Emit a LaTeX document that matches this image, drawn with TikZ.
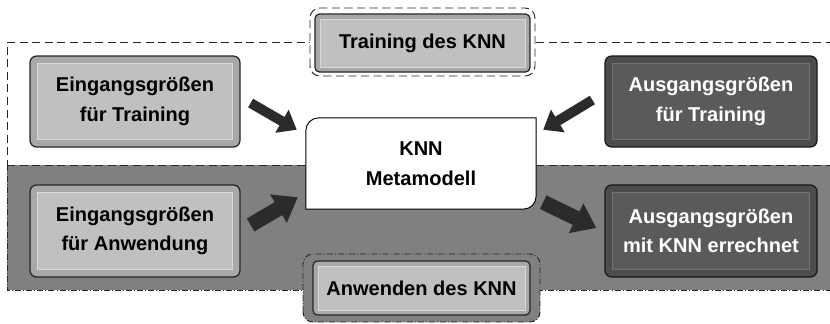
\documentclass[tikz,border=0pt]{standalone}
\usepackage{fontspec}
\setmainfont{Liberation Sans}
\usetikzlibrary{arrows.meta}

\definecolor{regiongray}{HTML}{808080}
\definecolor{lightface}{HTML}{C0C0C0}
\definecolor{lightring}{HTML}{A8A8A8}
\definecolor{darkface}{HTML}{5A5A5A}
\definecolor{darkring}{HTML}{4C4C4C}
\definecolor{arrowgray}{HTML}{2B2B2B}

\begin{document}
\begin{tikzpicture}[
    every node/.style={font=\bfseries\fontsize{19}{28}\selectfont, align=center, inner sep=0pt},
    regionline/.style={draw=black!85, line width=0.9pt, dash pattern=on 0.27cm off 0.15cm},
    appline/.style={draw=black!85, line width=0.9pt, dash pattern=on 0.2cm off 0.07cm on 0.03cm off 0.07cm},
    lightbtn/.style={draw=black!85, line width=1.2pt, rounded corners=0.22cm, fill=lightring, text=black,
        path picture={\draw[sharp corners, fill=lightface, draw=white!85!black, line width=0.6pt]
            ([shift={(0.24,0.24)}]path picture bounding box.south west) rectangle
            ([shift={(-0.24,-0.24)}]path picture bounding box.north east);}},
    darkbtn/.style={draw=black!90, line width=1.2pt, rounded corners=0.22cm, fill=darkring, text=white,
        path picture={\draw[sharp corners, fill=darkface, draw=white!45!black, line width=0.6pt]
            ([shift={(0.24,0.24)}]path picture bounding box.south west) rectangle
            ([shift={(-0.24,-0.24)}]path picture bounding box.north east);}},
    labelbtn/.style={draw=black!85, line width=1.2pt, rounded corners=0.15cm, fill=lightring, text=black,
        path picture={\draw[sharp corners, fill=lightface, draw=white!85!black, line width=0.6pt]
            ([shift={(0.17,0.17)}]path picture bounding box.south west) rectangle
            ([shift={(-0.17,-0.17)}]path picture bounding box.north east);}},
    knnbox/.style={draw=white, draw opacity=0, minimum width=7.733cm, minimum height=3.1cm,
        path picture={\draw[sharp corners, fill=white, draw=black, draw opacity=1, line width=0.9pt]
            ([shift={(0.03,0.03)}]path picture bounding box.south west)
            -- ([shift={(0.03,-0.45)}]path picture bounding box.north west)
            arc[start angle=180, end angle=90, radius=0.42cm]
            -- ([shift={(-0.03,-0.03)}]path picture bounding box.north east)
            -- ([shift={(-0.03,0.45)}]path picture bounding box.south east)
            arc[start angle=0, end angle=-90, radius=0.42cm] -- cycle;}},
    trainarrow/.style={draw=arrowgray, line width=0.33cm, -{Triangle[length=0.57cm, width=0.85cm]}},
    usearrow/.style={draw=arrowgray, line width=0.5cm, -{Triangle[length=0.75cm, width=1.05cm]}}
]
    \useasboundingbox (0,0) rectangle (27.667,10.767);

    % regions
    \draw[regionline] (27.8,9.367) -- (0.233,9.367) -- (0.233,5.267);
    \fill[regiongray] (0.233,1.1) rectangle (27.8,5.267);
    \draw[appline] (0.233,5.267) -- (0.233,1.1) -- (27.8,1.1);
    \draw[regionline] (0.233,5.267) -- (27.8,5.267);

    % frames round the labels
    \draw[regionline, fill=white, rounded corners=0.33cm] (10.333,8.233) rectangle (17.833,10.5);
    \draw[appline, fill=regiongray, rounded corners=0.33cm] (10.1,0.033) rectangle (18.0,2.3);

    % boxes
    \node[labelbtn, minimum width=7.167cm, minimum height=1.933cm] (training) at (14.083,9.333) {Training des KNN};
    \node[labelbtn, minimum width=7.233cm, minimum height=1.8cm] (anwenden) at (14.05,1.167) {Anwenden des KNN};
    \node[lightbtn, minimum width=7cm, minimum height=3.033cm] (eintrain) at (4.5,7.383) {Eingangsgrößen\\für Training};
    \node[darkbtn, minimum width=7.067cm, minimum height=3.033cm] (austrain) at (23.7,7.383) {Ausgangsgrößen\\für Training};
    \node[lightbtn, minimum width=7cm, minimum height=3.067cm] (einanw) at (4.5,3.067) {Eingangsgrößen\\für Anwendung};
    \node[darkbtn, minimum width=7.067cm, minimum height=3.067cm] (ausanw) at (23.7,3.067) {Ausgangsgrößen\\mit KNN errechnet};
    \node[knnbox] (knn) at (14.033,5.317) {KNN\\Metamodell};

    % arrows
    \draw[trainarrow] ([shift={(0.333,-0.05)}]eintrain.east) -- ([shift={(-0.267,-0.433)}]knn.north west);
    \draw[trainarrow] ([shift={(-0.4,0.05)}]austrain.west) -- ([shift={(0.2,-0.433)}]knn.north east);
    \draw[usearrow] ([shift={(0.333,0.2)}]einanw.east) -- ([shift={(-0.233,0.433)}]knn.south west);
    \draw[usearrow] ([shift={(0.2,0.267)}]knn.south east) -- ([shift={(-0.267,0.1)}]ausanw.west);

\end{tikzpicture}
\end{document}
